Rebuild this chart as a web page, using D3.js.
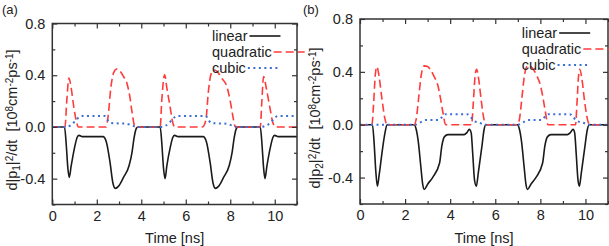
<!DOCTYPE html>
<html>
<head>
<meta charset="utf-8">
<script src="https://cdn.jsdelivr.net/npm/d3@7"></script>
<style>
  body { margin: 0; background: #fff; }
  svg text { font-family: "Liberation Sans", Arial, sans-serif; fill: #222; }
</style>
</head>
<body>
<svg id="chart" width="609" height="246"></svg>
<script>
// time [ns], value [10^8 cm^-2 ps^-1] pairs
var linearA = [[0,0],[0.55,0],[0.62,-0.12],[0.7,-0.32],[0.76,-0.39],[0.85,-0.3],[1.0,-0.16],[1.12,-0.08],[1.2,-0.065],[1.35,-0.075],
    [2.28,-0.075],[2.42,-0.11],[2.6,-0.28],[2.72,-0.43],[2.83,-0.475],[2.97,-0.46],[3.2,-0.39],[3.45,-0.3],[3.58,-0.2],[3.68,-0.08],[3.78,-0.01],[3.85,0],
    [4.85,0],[4.92,-0.12],[5.0,-0.32],[5.07,-0.40],[5.15,-0.3],[5.3,-0.16],[5.42,-0.08],[5.5,-0.065],[5.65,-0.075],
    [6.78,-0.075],[6.92,-0.11],[7.1,-0.28],[7.22,-0.43],[7.33,-0.475],[7.47,-0.46],[7.7,-0.39],[7.95,-0.3],[8.08,-0.2],[8.18,-0.08],[8.28,-0.01],[8.35,0],
    [9.35,0],[9.42,-0.12],[9.5,-0.32],[9.56,-0.40],[9.65,-0.3],[9.8,-0.16],[9.92,-0.08],[10.0,-0.065],[10.15,-0.075],[11,-0.075]];

var quadraticA = [[0,0],[0.57,0],[0.65,0.2],[0.75,0.378],[0.85,0.3],[0.97,0.15],[1.1,0.03],[1.17,0],
    [2.42,0],[2.52,0.1],[2.63,0.3],[2.76,0.42],[2.9,0.448],[3.05,0.43],[3.2,0.39],[3.35,0.34],[3.48,0.24],[3.58,0.12],[3.72,0],
    [4.85,0],[4.92,0.2],[5.05,0.404],[5.15,0.3],[5.3,0.15],[5.42,0.03],[5.5,0],
    [6.75,0],[6.9,0.05],[7.02,0.28],[7.14,0.41],[7.3,0.44],[7.45,0.42],[7.6,0.38],[7.85,0.31],[8.0,0.2],[8.1,0.1],[8.23,0],
    [9.35,0],[9.42,0.2],[9.5,0.39],[9.62,0.3],[9.78,0.15],[9.92,0.03],[10.03,0],[11,0]];

var cubicA = [[0,0],[0.6,0],[0.8,0.01],[1.0,0.04],[1.2,0.075],[1.35,0.085],[2.35,0.085],[2.5,0.05],[2.65,0.03],[3.3,0.025],[3.6,0.01],[3.8,0],
    [4.9,0],[5.1,0.01],[5.3,0.04],[5.5,0.075],[5.65,0.085],[6.9,0.085],[7.0,0.06],[7.15,0.03],[7.8,0.025],[8.1,0.01],[8.3,0],
    [9.4,0],[9.6,0.01],[9.8,0.03],[10.0,0.07],[10.15,0.085],[11,0.085]];

var linearB = [[0,0],[0.55,0],[0.62,-0.12],[0.7,-0.35],[0.77,-0.465],[0.85,-0.38],[0.97,-0.22],[1.1,-0.07],[1.2,0],
    [2.4,0],[2.5,-0.04],[2.58,-0.12],[2.7,-0.32],[2.78,-0.45],[2.85,-0.49],[3.0,-0.45],[3.22,-0.40],[3.53,-0.29],[3.63,-0.16],[3.75,-0.09],[3.9,-0.075],
    [4.62,-0.075],[4.74,-0.06],[4.85,-0.035],[4.93,-0.06],[5.0,-0.22],[5.08,-0.42],[5.16,-0.465],[5.25,-0.36],[5.41,-0.16],[5.5,-0.04],[5.58,0],
    [6.98,0],[7.08,-0.04],[7.16,-0.12],[7.28,-0.32],[7.36,-0.45],[7.43,-0.49],[7.58,-0.45],[7.8,-0.40],[8.1,-0.29],[8.2,-0.16],[8.32,-0.09],[8.47,-0.075],
    [9.2,-0.075],[9.33,-0.06],[9.45,-0.035],[9.52,-0.06],[9.59,-0.22],[9.67,-0.42],[9.73,-0.465],[9.82,-0.36],[9.98,-0.16],[10.08,-0.04],[10.17,0],[11,0]];

var quadraticB = [[0,0],[0.53,0],[0.6,0.15],[0.68,0.38],[0.75,0.44],[0.85,0.36],[0.97,0.2],[1.1,0.05],[1.2,0],
    [2.4,0],[2.5,0.05],[2.6,0.2],[2.72,0.38],[2.85,0.445],[3.0,0.44],[3.15,0.41],[3.3,0.36],[3.45,0.3],[3.57,0.2],[3.67,0.1],[3.8,0],
    [4.95,0],[5.02,0.15],[5.1,0.36],[5.17,0.42],[5.26,0.35],[5.38,0.18],[5.5,0.04],[5.58,0],
    [6.98,0],[7.08,0.05],[7.18,0.2],[7.3,0.38],[7.43,0.445],[7.58,0.44],[7.72,0.41],[7.87,0.36],[8.0,0.3],[8.12,0.2],[8.22,0.1],[8.34,0],
    [9.56,0],[9.62,0.15],[9.69,0.36],[9.75,0.42],[9.84,0.35],[9.96,0.18],[10.09,0.04],[10.18,0],[11,0]];

var cubicB = [[0,0],[2.45,0],[2.7,0.02],[2.9,0.035],[3.5,0.035],[3.65,0.06],[3.8,0.08],[4.75,0.08],[4.9,0.06],[5.05,0.03],[5.3,0.015],[5.55,0],
    [7.0,0],[7.25,0.02],[7.45,0.035],[8.05,0.035],[8.2,0.06],[8.35,0.08],[9.3,0.08],[9.45,0.06],[9.6,0.03],[9.9,0.015],[10.15,0],[11,0]];

var seriesNames = ['linear', 'quadratic', 'cubic'];
var xTickLabels = [0, 2, 4, 6, 8, 10];
var yTickLabels = [-0.4, 0.0, 0.4, 0.8];

var styles = {
    linear:    { color: '#1a1a1a', dash: null,    width: 1.6 },
    quadratic: { color: '#ff3b3b', dash: '8,4',   width: 1.6 },
    cubic:     { color: '#3a6fd6', dash: '2,3.5', width: 2 }
};

var svg = d3.select('#chart');

function drawPanel(cfg) {
    var g = svg.append('g');

    var xScale = d3.scaleLinear()
                    .domain([0, 11])
                    .range([cfg.left, cfg.right]);
    var yScale = d3.scaleLinear()
                    .domain([-0.6, 0.8])
                    .range([cfg.bottom, cfg.top]);

    var clipId = 'clip-' + cfg.id;
    g.append('clipPath')
        .attr('id', clipId)
        .append('rect')
            .attr('x', cfg.left)
            .attr('y', cfg.top)
            .attr('width', cfg.right - cfg.left)
            .attr('height', cfg.bottom - cfg.top);

    var line = d3.line()
                    .x(d => xScale(d[0]))
                    .y(d => yScale(d[1]))
                    .curve(d3.curveMonotoneX);

    var data = [cfg.linear, cfg.quadratic, cfg.cubic];
    seriesNames.forEach(function(name, i) {
        g.append('path')
            .attr('clip-path', `url(#${clipId})`)
            .attr('d', line(data[i]))
            .attr('fill', 'none')
            .attr('stroke', styles[name].color)
            .attr('stroke-width', styles[name].width)
            .attr('stroke-dasharray', styles[name].dash);
    });

    // axes with inward ticks on all four sides
    var xMajor = d3.axisBottom(xScale).tickValues(xTickLabels).tickSize(-5).tickPadding(6).tickFormat(d3.format('d'));
    var xMinor = d3.axisBottom(xScale).tickValues([1, 3, 5, 7, 9, 11]).tickSize(-3).tickFormat('');
    var yMajor = d3.axisLeft(yScale).tickValues(yTickLabels).tickSize(-5).tickPadding(7).tickFormat(d => d3.format('.1f')(d).replace('−', '-'));
    var yMinor = d3.axisLeft(yScale).tickValues([-0.6, -0.2, 0.2, 0.6]).tickSize(-3).tickFormat('');

    g.append('g').attr('transform', `translate(0, ${cfg.bottom})`).call(xMajor);
    g.append('g').attr('transform', `translate(0, ${cfg.bottom})`).call(xMinor);
    g.append('g').attr('transform', `translate(0, ${cfg.top})`).call(d3.axisTop(xScale).tickValues(xTickLabels).tickSize(-5).tickFormat(''));
    g.append('g').attr('transform', `translate(0, ${cfg.top})`).call(d3.axisTop(xScale).tickValues([1, 3, 5, 7, 9, 11]).tickSize(-3).tickFormat(''));
    g.append('g').attr('transform', `translate(${cfg.left}, 0)`).call(yMajor);
    g.append('g').attr('transform', `translate(${cfg.left}, 0)`).call(yMinor);
    g.append('g').attr('transform', `translate(${cfg.right}, 0)`).call(d3.axisRight(yScale).tickValues(yTickLabels).tickSize(-5).tickFormat(''));
    g.append('g').attr('transform', `translate(${cfg.right}, 0)`).call(d3.axisRight(yScale).tickValues([-0.6, -0.2, 0.2, 0.6]).tickSize(-3).tickFormat(''));

    g.selectAll('.domain').remove();
    g.selectAll('.tick line')
        .attr('stroke', '#333')
        .attr('stroke-width', 1.2);
    g.selectAll('.tick text')
        .style('font-size', '14.5px')
        .attr('fill', '#222');

    g.append('rect')
        .attr('x', cfg.left)
        .attr('y', cfg.top)
        .attr('width', cfg.right - cfg.left)
        .attr('height', cfg.bottom - cfg.top)
        .attr('fill', 'none')
        .attr('stroke', '#333')
        .attr('stroke-width', 1.5);

    g.append('text')
        .attr('x', (cfg.left + cfg.right) / 2)
        .attr('y', 243)
        .style('font-size', '14.5px')
        .style('text-anchor', 'middle')
        .text('Time [ns]');

    var yLabel = g.append('text')
        .attr('transform', `translate(${cfg.labelX}, ${cfg.labelY}) rotate(-90)`)
        .style('font-size', '14.5px')
        .style('text-anchor', 'middle');
    yLabel.append('tspan').text('d|p');
    yLabel.append('tspan').attr('baseline-shift', '-25%').style('font-size', '10px').text(cfg.sub);
    yLabel.append('tspan').text('|');
    yLabel.append('tspan').attr('baseline-shift', '40%').style('font-size', '10px').text('2');
    yLabel.append('tspan').text('/dt\u00a0\u00a0[10');
    yLabel.append('tspan').attr('baseline-shift', '40%').style('font-size', '10px').text('8');
    yLabel.append('tspan').text('cm');
    yLabel.append('tspan').attr('baseline-shift', '40%').style('font-size', '10px').text('-2');
    yLabel.append('tspan').text('ps');
    yLabel.append('tspan').attr('baseline-shift', '40%').style('font-size', '10px').text('-1');
    yLabel.append('tspan').text(']');

    g.append('text')
        .attr('x', cfg.tagX)
        .attr('y', 14)
        .style('font-size', '13px')
        .text(cfg.tag);

    // legend
    seriesNames.forEach(function(name, i) {
        var y = cfg.legendY + i * 16;
        var label = g.append('text')
            .attr('x', cfg.legendX)
            .attr('y', y + 5)
            .style('font-size', '14.5px')
            .text(name);
        var x0 = cfg.legendX + label.node().getComputedTextLength() + 2;
        g.append('line')
            .attr('x1', x0)
            .attr('x2', x0 + 31)
            .attr('y1', y)
            .attr('y2', y)
            .attr('stroke', styles[name].color)
            .attr('stroke-width', styles[name].width)
            .attr('stroke-dasharray', styles[name].dash);
    });
}

drawPanel({
    id: 'a', tag: '(a)', tagX: 2, sub: '1',
    left: 52.3, right: 297, top: 23.5, bottom: 204.5,
    labelX: 17, labelY: 120,
    legendX: 212, legendY: 36,
    linear: linearA, quadratic: quadraticA, cubic: cubicA
});

drawPanel({
    id: 'b', tag: '(b)', tagX: 303, sub: '2',
    left: 360, right: 608, top: 19, bottom: 204,
    labelX: 320, labelY: 118,
    legendX: 521.7, legendY: 33,
    linear: linearB, quadratic: quadraticB, cubic: cubicB
});
</script>
</body>
</html>
